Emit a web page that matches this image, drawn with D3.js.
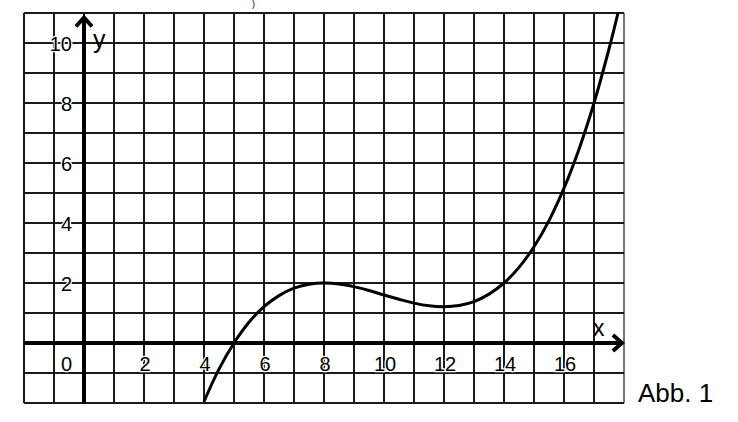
<!DOCTYPE html>
<html>
<head>
<meta charset="utf-8">
<script src="https://cdn.jsdelivr.net/npm/d3@7"></script>
<style>
  html, body { margin: 0; padding: 0; background: #fff; }
  svg { display: block; }
  text { font-family: Arial, "Liberation Sans", sans-serif; fill: #000; }
</style>
</head>
<body>
<svg id="chart" width="738" height="422"></svg>
<script>
// ---- data ----
const curveX = [4, 4.5, 5, 5.5, 6, 6.5, 7, 7.5, 8, 8.5, 9, 9.5, 10, 10.5, 11, 11.5, 12, 12.5, 13, 13.5, 14, 14.5, 15, 15.5, 16, 16.5, 17, 17.5, 17.8];
const curveY = [-1.95, -0.87, 0, 0.69, 1.21, 1.58, 1.83, 1.96, 2.0, 1.97, 1.88, 1.75, 1.6, 1.46, 1.33, 1.24, 1.21, 1.25, 1.38, 1.63, 2.0, 2.52, 3.21, 4.08, 5.16, 6.46, 8.0, 9.8, 11.0];
const xTicks = [0, 2, 4, 6, 8, 10, 12, 14, 16];
const yTicks = [2, 4, 6, 8, 10];
const xDomain = [-2, 18];
const yDomain = [-2, 11];

// ---- scales ----
const x = d3.scaleLinear().domain(xDomain).range([24, 624]);
const y = d3.scaleLinear().domain(yDomain).range([403, 13]);

const svg = d3.select("#chart");

// grid
const gx = d3.range(xDomain[0], xDomain[1] + 1);
const gy = d3.range(yDomain[0], yDomain[1] + 1);
svg.append("g").selectAll("line").data(gx).join("line")
  .attr("x1", d => x(d)).attr("x2", d => x(d))
  .attr("y1", y(yDomain[0])).attr("y2", y(yDomain[1]))
  .attr("stroke", d => d === xDomain[1] ? "#777" : "#1a1a1a")
  .attr("stroke-width", 2);
svg.append("g").selectAll("line").data(gy).join("line")
  .attr("y1", d => y(d)).attr("y2", d => y(d))
  .attr("x1", x(xDomain[0])).attr("x2", x(xDomain[1]))
  .attr("stroke", "#1a1a1a")
  .attr("stroke-width", 2);

// axes
svg.append("line")
  .attr("x1", x(xDomain[0])).attr("x2", x(17.93))
  .attr("y1", y(0)).attr("y2", y(0))
  .attr("stroke", "#000").attr("stroke-width", 4);
svg.append("line")
  .attr("x1", x(0)).attr("x2", x(0))
  .attr("y1", y(yDomain[0])).attr("y2", y(10.85))
  .attr("stroke", "#000").attr("stroke-width", 4);

// arrow heads (open chevrons)
const xt = [x(17.93), y(0)];
svg.append("path")
  .attr("d", `M${xt[0] - 9},${xt[1] - 8} L${xt[0]},${xt[1]} L${xt[0] - 9},${xt[1] + 8}`)
  .attr("fill", "none").attr("stroke", "#000").attr("stroke-width", 4)
  .attr("stroke-linecap", "butt").attr("stroke-linejoin", "miter");
const yt = [x(0), y(10.85)];
svg.append("path")
  .attr("d", `M${yt[0] - 8},${yt[1] + 9} L${yt[0]},${yt[1]} L${yt[0] + 8},${yt[1] + 9}`)
  .attr("fill", "none").attr("stroke", "#000").attr("stroke-width", 4)
  .attr("stroke-linecap", "butt").attr("stroke-linejoin", "miter");

// tick labels (with a thin white halo that hides the grid line behind the digits)
function halo(sel) {
  sel.attr("stroke", "#fff").attr("stroke-width", 2.5)
     .attr("paint-order", "stroke").attr("stroke-linejoin", "round");
}
svg.append("g").selectAll("text").data(xTicks).join("text")
  .attr("x", d => d === 0 ? x(0) - 12 : x(d) + 1)
  .attr("y", y(0) + 28)
  .attr("text-anchor", d => d === 0 ? "end" : "middle")
  .attr("font-size", 20)
  .text(d => d)
  .call(halo);
svg.append("g").selectAll("text").data(yTicks).join("text")
  .attr("x", x(0) - 12)
  .attr("y", d => y(d) + 8)
  .attr("text-anchor", "end")
  .attr("font-size", 20)
  .text(d => d)
  .call(halo);

// axis names
svg.append("text").attr("x", x(0) + 9).attr("y", y(10) + 5)
  .attr("font-size", 25).text("y");
svg.append("text").attr("x", x(17) - 1).attr("y", y(0) - 7)
  .attr("font-size", 23).text("x");

// curve
const pts = curveX.map((v, i) => [v, curveY[i]]);
svg.append("clipPath").attr("id", "plotclip").append("rect")
  .attr("x", x(xDomain[0])).attr("y", y(yDomain[1]))
  .attr("width", x(xDomain[1]) - x(xDomain[0]))
  .attr("height", y(yDomain[0]) - y(yDomain[1]));
svg.append("path")
  .datum(pts)
  .attr("clip-path", "url(#plotclip)")
  .attr("d", d3.line().x(d => x(d[0])).y(d => y(d[1])).curve(d3.curveCatmullRom.alpha(0.5)))
  .attr("fill", "none").attr("stroke", "#000").attr("stroke-width", 3);

// caption
svg.append("text").attr("x", 638).attr("y", 402)
  .attr("font-size", 26).text("Abb. 1");

// small remnant of text above the figure
svg.append("text").attr("x", 252).attr("y", 7)
  .attr("font-size", 9).text(")");
</script>
</body>
</html>
